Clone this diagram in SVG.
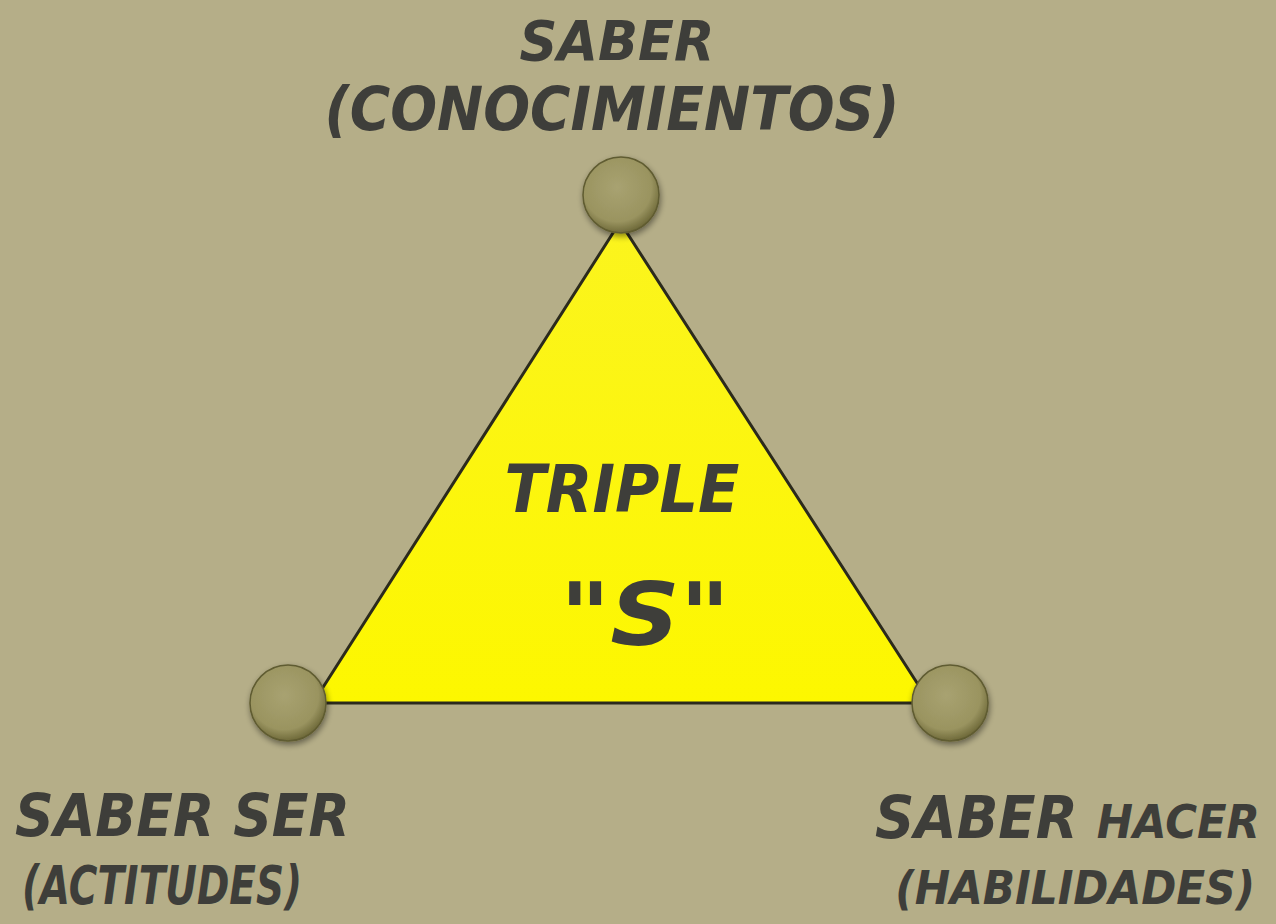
<svg xmlns="http://www.w3.org/2000/svg" width="1276" height="924" viewBox="0 0 1276 924">
  <defs>
    <radialGradient id="ball" cx="0.45" cy="0.4" r="0.6">
      <stop offset="0" stop-color="#a8a271"/>
      <stop offset="0.75" stop-color="#9a9460"/>
      <stop offset="1" stop-color="#6f6a3a"/>
    </radialGradient>
    <linearGradient id="tri" x1="0" y1="0" x2="0" y2="1">
      <stop offset="0" stop-color="#fbf41e"/>
      <stop offset="1" stop-color="#fdf700"/>
    </linearGradient>
    <filter id="shadow" x="-30%" y="-30%" width="160%" height="160%">
      <feGaussianBlur in="SourceAlpha" stdDeviation="3"/>
      <feOffset dx="1" dy="3" result="b"/>
      <feComponentTransfer><feFuncA type="linear" slope="0.45"/></feComponentTransfer>
      <feMerge><feMergeNode/><feMergeNode in="SourceGraphic"/></feMerge>
    </filter>
  </defs>
  <style>
    .lbl { font-family: "DejaVu Sans", "Liberation Sans", sans-serif; font-weight: bold; font-style: italic; fill: #3e3e3a; }
    .cnd { font-family: "DejaVu Sans Condensed", "Liberation Sans Narrow", "DejaVu Sans", sans-serif; font-weight: bold; font-style: italic; fill: #3e3e3a; }
    .ball { fill: url(#ball); stroke: #5f5b30; stroke-width: 1.5; filter: url(#shadow); }
  </style>
  <rect width="1276" height="924" fill="#b5ae88"/>

  <g id="connectors">
    <polygon points="620,222 313,703 930,703" fill="url(#tri)" stroke="#2b2a1c" stroke-width="3" stroke-linejoin="round"/>
  </g>

  <g id="node-center">
    <text class="lbl" x="622" y="512" font-size="66" text-anchor="middle" textLength="235" lengthAdjust="spacingAndGlyphs">TRIPLE</text>
    <text class="lbl" x="645" y="645" font-size="88" text-anchor="middle" textLength="170" lengthAdjust="spacingAndGlyphs">"S"</text>
  </g>

  <g id="node-top">
    <circle class="ball" cx="621" cy="195" r="38"/>
    <text class="lbl" x="617" y="60" font-size="56" text-anchor="middle" textLength="195" lengthAdjust="spacingAndGlyphs">SABER</text>
    <text class="lbl" x="612" y="130" font-size="60" text-anchor="middle" textLength="575" lengthAdjust="spacingAndGlyphs">(CONOCIMIENTOS)</text>
  </g>

  <g id="node-left">
    <circle class="ball" cx="288" cy="703" r="38"/>
    <text class="lbl" x="15" y="836" font-size="58" textLength="335" lengthAdjust="spacingAndGlyphs">SABER SER</text>
    <text class="lbl" x="22" y="904" font-size="54" textLength="280" lengthAdjust="spacingAndGlyphs">(ACTITUDES)</text>
  </g>

  <g id="node-right">
    <circle class="ball" cx="950" cy="703" r="38"/>
    <text class="lbl" x="1260" y="838" font-size="58" text-anchor="end" textLength="385" lengthAdjust="spacingAndGlyphs">SABER <tspan font-size="46">HACER</tspan></text>
    <text class="cnd" x="1255" y="904" font-size="47" text-anchor="end">(HABILIDADES)</text>
  </g>
</svg>
